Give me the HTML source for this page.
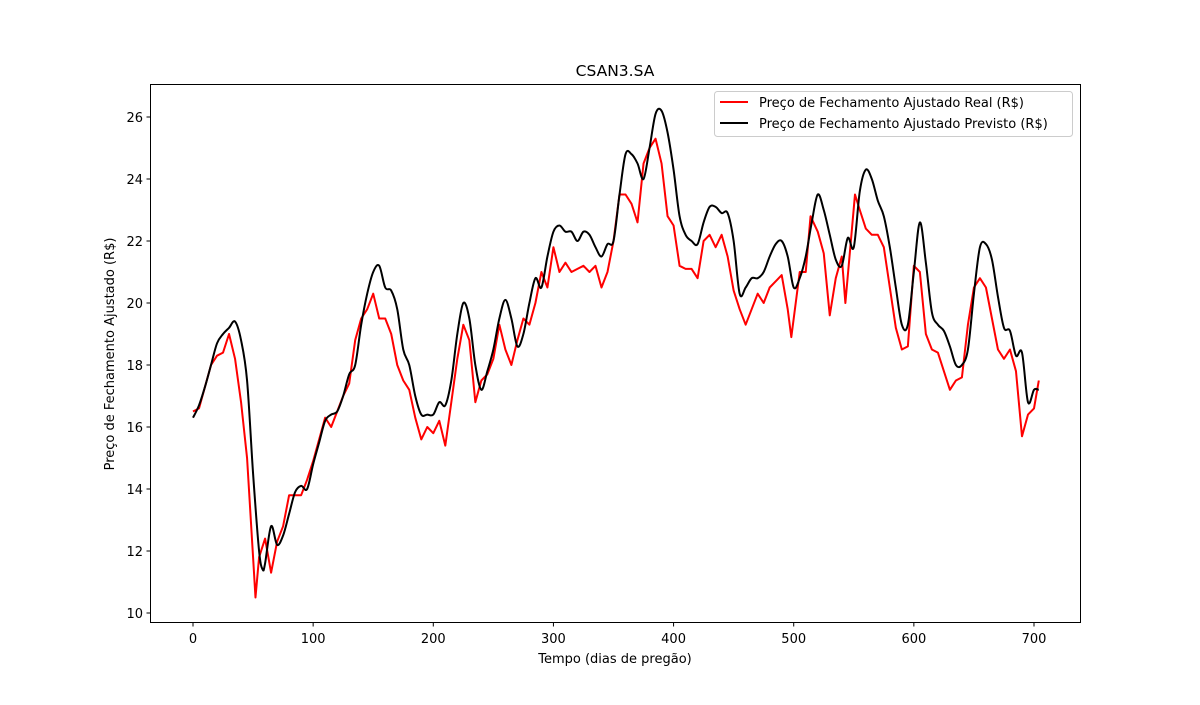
<!DOCTYPE html>
<html><head><meta charset="utf-8"><style>
body{margin:0;background:#fff}
svg text{font-family:"DejaVu Sans","Liberation Sans",sans-serif;font-size:13px;fill:#000}
</style></head><body>
<svg id="chart" width="1200" height="700" xmlns="http://www.w3.org/2000/svg">
<rect width="1200" height="700" fill="#fff"/>
<g id="plot"></g>
<rect x="150.5" y="84.5" width="930" height="538" fill="none" stroke="#000" stroke-width="1"/>
<text x="615" y="76" text-anchor="middle" style="font-size:15.5px">CSAN3.SA</text>
<text x="615" y="663" text-anchor="middle">Tempo (dias de pregão)</text>
<text transform="translate(114,354) rotate(-90)" text-anchor="middle">Preço de Fechamento Ajustado (R$)</text>
<g id="xt"></g><g id="yt"></g>
<g>
<rect x="714.5" y="91.5" width="358" height="45" rx="3" fill="#fff" fill-opacity="0.8" stroke="#ccc"/>
<line x1="720" y1="102" x2="748" y2="102" stroke="#f00" stroke-width="2"/>
<text x="759" y="107">Preço de Fechamento Ajustado Real (R$)</text>
<line x1="720" y1="123" x2="748" y2="123" stroke="#000" stroke-width="2"/>
<text x="759" y="128">Preço de Fechamento Ajustado Previsto (R$)</text>
</g>
</svg>
<script>
const realDays=[0,5,10,15,20,25,30,35,40,45,50,52,55,60,65,70,75,80,85,90,95,100,105,110,115,120,125,130,135,140,145,150,155,160,165,170,175,180,185,190,195,200,205,210,215,220,225,230,235,240,245,250,255,260,265,270,275,280,285,290,295,300,305,310,315,320,325,330,335,340,345,350,355,360,365,370,375,380,385,390,395,400,405,410,415,420,425,430,435,440,445,450,455,460,465,470,475,480,485,490,495,498,505,510,514,520,525,530,535,540,543,551,555,560,565,570,575,580,585,590,595,600,605,610,615,620,625,630,635,640,645,650,655,660,665,670,675,680,685,690,695,700,704];
const realVals=[16.5,16.6,17.3,18.0,18.3,18.4,19.0,18.2,16.8,15.0,11.8,10.5,11.8,12.4,11.3,12.3,12.8,13.8,13.8,13.8,14.3,14.9,15.6,16.3,16.0,16.5,17.0,17.4,18.8,19.5,19.8,20.3,19.5,19.5,19.0,18.0,17.5,17.2,16.3,15.6,16.0,15.8,16.2,15.4,16.8,18.2,19.3,18.8,16.8,17.5,17.7,18.2,19.3,18.5,18.0,18.8,19.5,19.3,20.0,21.0,20.5,21.8,21.0,21.3,21.0,21.1,21.2,21.0,21.2,20.5,21.0,22.0,23.5,23.5,23.2,22.6,24.5,25.0,25.3,24.5,22.8,22.5,21.2,21.1,21.1,20.8,22.0,22.2,21.8,22.2,21.5,20.4,19.8,19.3,19.8,20.3,20.0,20.5,20.7,20.9,19.8,18.9,21.0,21.0,22.8,22.3,21.6,19.6,20.8,21.5,20.0,23.5,23.0,22.4,22.2,22.2,21.8,20.5,19.2,18.5,18.6,21.2,21.0,19.0,18.5,18.4,17.8,17.2,17.5,17.6,19.3,20.5,20.8,20.5,19.5,18.5,18.2,18.5,17.8,15.7,16.4,16.6,17.5];
const predDays=[0,5,10,15,20,25,30,35,40,45,50,55,58,60,65,70,75,80,85,90,95,100,105,110,115,120,125,130,135,140,145,150,155,160,165,170,175,180,185,190,195,200,205,210,215,220,225,230,235,240,245,250,255,260,265,270,275,280,285,290,295,300,305,310,315,320,325,330,335,340,345,350,355,360,365,370,375,380,385,390,395,400,405,410,415,420,425,430,435,440,445,450,455,460,465,470,475,480,485,490,495,500,505,510,515,520,525,530,535,540,545,550,555,560,565,570,575,580,585,590,595,600,605,610,615,620,625,630,635,640,645,650,655,660,665,670,675,680,685,690,695,700,704];
const predVals=[16.3,16.7,17.3,18.0,18.7,19.0,19.2,19.4,18.8,17.5,14.5,12.0,11.4,11.6,12.8,12.2,12.5,13.2,13.9,14.1,14.0,14.8,15.5,16.2,16.4,16.5,17.0,17.7,18.0,19.3,20.3,21.0,21.2,20.5,20.4,19.8,18.5,18.0,17.0,16.4,16.4,16.4,16.8,16.7,17.5,19.0,20.0,19.5,18.0,17.2,17.8,18.5,19.5,20.1,19.5,18.6,19.0,20.0,20.8,20.5,21.5,22.3,22.5,22.3,22.3,22.0,22.3,22.2,21.8,21.5,21.9,22.0,23.5,24.8,24.8,24.5,24.0,25.0,26.1,26.2,25.5,24.3,22.8,22.2,22.0,21.9,22.6,23.1,23.1,22.9,22.9,22.0,20.3,20.5,20.8,20.8,21.0,21.5,21.9,22.0,21.5,20.5,20.8,21.5,22.6,23.5,23.0,22.2,21.4,21.2,22.1,21.8,23.6,24.3,24.0,23.3,22.8,21.8,20.5,19.3,19.3,21.0,22.6,21.3,19.7,19.3,19.1,18.6,18.0,18.0,18.5,20.3,21.8,21.9,21.4,20.2,19.2,19.1,18.3,18.4,16.8,17.2,17.2];
const xTicks=[0,100,200,300,400,500,600,700];
const yTicks=[10,12,14,16,18,20,22,24,26];

const NS="http://www.w3.org/2000/svg";
function X(d){return 193+d*(1034-193)/700;}
function Y(v){return 613-(v-10)*(613-117)/16;}
const plot=document.getElementById('plot');
function line(days,vals,color,name){
  const p=document.createElementNS(NS,'polyline');
  p.setAttribute('points',days.map((d,i)=>X(d)+','+Y(vals[i])).join(' '));
  p.setAttribute('fill','none');p.setAttribute('stroke',color);p.setAttribute('stroke-width','2');
  p.setAttribute('stroke-linejoin','round');
  
  
  plot.appendChild(p);
}
function smooth(days,vals,color,name){
  const pts=days.map((d,i)=>[X(d),Y(vals[i])]);
  let s='M'+pts[0][0]+','+pts[0][1];
  for(let i=0;i<pts.length-1;i++){
    const p0=pts[Math.max(0,i-1)],p1=pts[i],p2=pts[i+1],p3=pts[Math.min(pts.length-1,i+2)];
    const c1=[p1[0]+(p2[0]-p0[0])/6,p1[1]+(p2[1]-p0[1])/6];
    const c2=[p2[0]-(p3[0]-p1[0])/6,p2[1]-(p3[1]-p1[1])/6];
    s+=' C'+c1[0]+','+c1[1]+' '+c2[0]+','+c2[1]+' '+p2[0]+','+p2[1];
  }
  const p=document.createElementNS(NS,'path');
  p.setAttribute('d',s);
  p.setAttribute('fill','none');p.setAttribute('stroke',color);p.setAttribute('stroke-width','2');
  
  
  plot.appendChild(p);
}
line(realDays,realVals,'#f00','real-price-line');
smooth(predDays,predVals,'#000','predicted-price-line');
const xt=document.getElementById('xt'),yt=document.getElementById('yt');
xTicks.forEach(t=>{
  const l=document.createElementNS(NS,'line');
  l.setAttribute('x1',X(t));l.setAttribute('x2',X(t));l.setAttribute('y1',623);l.setAttribute('y2',626.5);l.setAttribute('stroke','#000');
  
  
  xt.appendChild(l);
  const s=document.createElementNS(NS,'text');
  s.setAttribute('x',X(t));s.setAttribute('y',643);s.setAttribute('text-anchor','middle');s.textContent=t;
  
  
  xt.appendChild(s);
});
yTicks.forEach(t=>{
  const l=document.createElementNS(NS,'line');
  l.setAttribute('x1',146.5);l.setAttribute('x2',150);l.setAttribute('y1',Y(t));l.setAttribute('y2',Y(t));l.setAttribute('stroke','#000');
  
  
  yt.appendChild(l);
  const s=document.createElementNS(NS,'text');
  s.setAttribute('x',143);s.setAttribute('y',Y(t)+5);s.setAttribute('text-anchor','end');s.textContent=t;
  
  
  yt.appendChild(s);
});
</script>
</body></html>
